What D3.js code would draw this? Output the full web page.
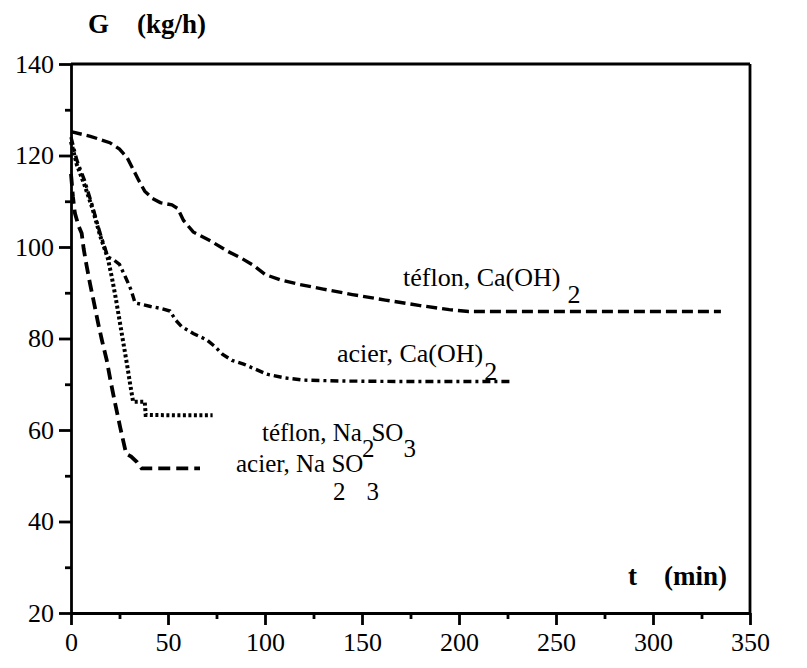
<!DOCTYPE html>
<html>
<head>
<meta charset="utf-8">
<script src="https://cdn.jsdelivr.net/npm/d3@7"></script>
<style>
  body { margin: 0; background: #fff; }
  svg text { font-family: "Liberation Serif", "Times New Roman", serif; fill: #000; }
  .axis path, .axis line { stroke: #000; stroke-width: 2.8; }
</style>
</head>
<body>
<div id="chart"></div>
<script>
// téflon, Ca(OH)2
const tefCaT = [0, 10, 20, 25, 29, 32, 35, 38, 42, 46, 52, 55, 58, 63, 72, 81, 88, 94, 100, 108, 118, 130, 145, 162, 180, 195, 205, 250, 300, 335];
const tefCaG = [125.2, 124.2, 122.8, 121.4, 119.5, 117, 114.5, 112.2, 110.6, 109.7, 109.2, 108.4, 105.8, 103.3, 101.3, 99, 97.5, 96, 94, 92.8, 91.8, 90.8, 89.6, 88.4, 87.2, 86.3, 85.9, 85.9, 85.9, 85.9];

// acier, Ca(OH)2
const acCaT = [0, 3, 7, 11, 15, 19, 22, 25, 28, 31, 33, 37, 41, 46, 51, 54, 57, 63, 70, 74, 78, 83, 89, 95, 101, 110, 120, 140, 170, 200, 227];
const acCaG = [124, 119, 114.5, 109, 103, 97.8, 97.2, 96.2, 93.5, 90.6, 87.8, 87.4, 87, 86.6, 86, 84, 82.6, 81.1, 79.7, 78.3, 76.6, 75.2, 74.4, 73.3, 72.2, 71.4, 70.9, 70.7, 70.6, 70.6, 70.6];

// téflon, Na2SO3
const tefNaT = [0, 3, 7, 11, 15, 19, 21, 23, 25, 27, 29, 30.5, 32, 35, 38, 38.5, 55, 73];
const tefNaG = [123, 118, 113.5, 108.5, 102.5, 97.5, 93.5, 89, 84, 79, 74, 70, 66.2, 66.2, 66.2, 63.3, 63.2, 63.2];

// acier, Na2SO3
const acNaT = [0, 1, 2, 4, 5.5, 6.5, 8, 9.8, 12, 14, 16, 18.4, 20.5, 22.7, 25.3, 27.8, 28.5, 31, 34, 36.4, 45, 55, 66.5];
const acNaG = [116, 111, 107.4, 104.5, 103, 99.7, 96, 92, 87.5, 83.3, 79.5, 75.3, 70.5, 65.9, 60.7, 56, 54.8, 54.2, 53, 51.6, 51.6, 51.6, 51.6];

const xMajor = [0, 50, 100, 150, 200, 250, 300, 350];
const xMinor = [25, 75, 125, 175, 225, 275, 325];
const yMajor = [20, 40, 60, 80, 100, 120, 140];
const yMinor = [30, 50, 70, 90, 110, 130];

const width = 807, height = 668;
const plot = { left: 71, right: 750, top: 64, bottom: 613 };
const serif = "'Liberation Serif', 'Times New Roman', serif";

const svg = d3.select("#chart").append("svg")
  .attr("width", width)
  .attr("height", height);

const x = d3.scaleLinear().domain([0, 350]).range([plot.left, plot.right]);
const y = d3.scaleLinear().domain([20, 140]).range([plot.bottom, plot.top]);

// minor ticks
svg.append("g").attr("class", "axis")
  .attr("transform", `translate(0,${plot.bottom})`)
  .call(d3.axisBottom(x).tickValues(xMinor).tickSize(6).tickSizeOuter(0).tickFormat(""))
  .call(g => g.select(".domain").remove());
svg.append("g").attr("class", "axis")
  .attr("transform", `translate(${plot.left},0)`)
  .call(d3.axisLeft(y).tickValues(yMinor).tickSize(6).tickSizeOuter(0).tickFormat(""))
  .call(g => g.select(".domain").remove());

// major ticks with labels (font set after the axis call, which resets it)
svg.append("g").attr("class", "axis")
  .attr("transform", `translate(0,${plot.bottom})`)
  .call(d3.axisBottom(x).tickValues(xMajor).tickSize(12).tickSizeOuter(0).tickPadding(8).tickFormat(d3.format("d")))
  .attr("font-family", serif).attr("font-size", 26);
svg.append("g").attr("class", "axis")
  .attr("transform", `translate(${plot.left},0)`)
  .call(d3.axisLeft(y).tickValues(yMajor).tickSize(12).tickSizeOuter(0).tickPadding(5).tickFormat(d3.format("d")))
  .attr("font-family", serif).attr("font-size", 26);

// frame: top and right
svg.append("line")
  .attr("x1", x(0)).attr("x2", x(350))
  .attr("y1", y(140)).attr("y2", y(140))
  .attr("stroke", "#000").attr("stroke-width", 2.8);
svg.append("line")
  .attr("x1", x(350)).attr("x2", x(350))
  .attr("y1", y(140)).attr("y2", y(20))
  .attr("stroke", "#000").attr("stroke-width", 2.8);

// curves
const line = d3.line().x(d => x(d[0])).y(d => y(d[1]));
const series = [
  { t: tefCaT, g: tefCaG, dash: "11,5", w: 3.4 },
  { t: acCaT, g: acCaG, dash: "8,4,3,4", w: 3.4 },
  { t: tefNaT, g: tefNaG, dash: "3,2.5", w: 4 },
  { t: acNaT, g: acNaG, dash: "12,6", w: 3.8 }
];
series.forEach(s => {
  svg.append("path")
    .datum(s.t.map((t, i) => [t, s.g[i]]))
    .attr("d", line)
    .attr("fill", "none")
    .attr("stroke", "#000")
    .attr("stroke-width", s.w)
    .attr("stroke-dasharray", s.dash);
});

// axis titles
function bold(xp, yp, s) {
  svg.append("text").attr("x", xp).attr("y", yp)
    .style("font-size", "27px").style("font-weight", "bold").text(s);
}
bold(88, 33, "G");
bold(137, 33, "(kg/h)");
bold(628, 585, "t");
bold(664, 585, "(min)");

// curve labels
function label(xp, yp, fs, parts) {
  const t = svg.append("text").attr("x", xp).attr("y", yp).style("font-size", fs + "px");
  parts.forEach(p => {
    t.append("tspan").attr("dy", p.dy || 0).attr("dx", p.dx || 0).text(p.s);
  });
}
label(403, 286, 26, [{ s: "téflon, Ca(OH)" }, { s: "2", dx: 7, dy: 17 }]);
label(337, 362, 26, [{ s: "acier, Ca(OH)" }, { s: "2", dx: 1, dy: 18 }]);
label(262, 441, 25, [{ s: "téflon, Na" }, { s: "2", dy: 16 }, { s: "SO", dy: -16, dx: -3 }, { s: "3", dy: 16 }]);
label(236, 472, 25, [{ s: "acier, Na SO" }, { s: "3", dy: 28, dx: 3 }]);
svg.append("text").attr("x", 333).attr("y", 500).style("font-size", "25px").text("2");
</script>
</body>
</html>
